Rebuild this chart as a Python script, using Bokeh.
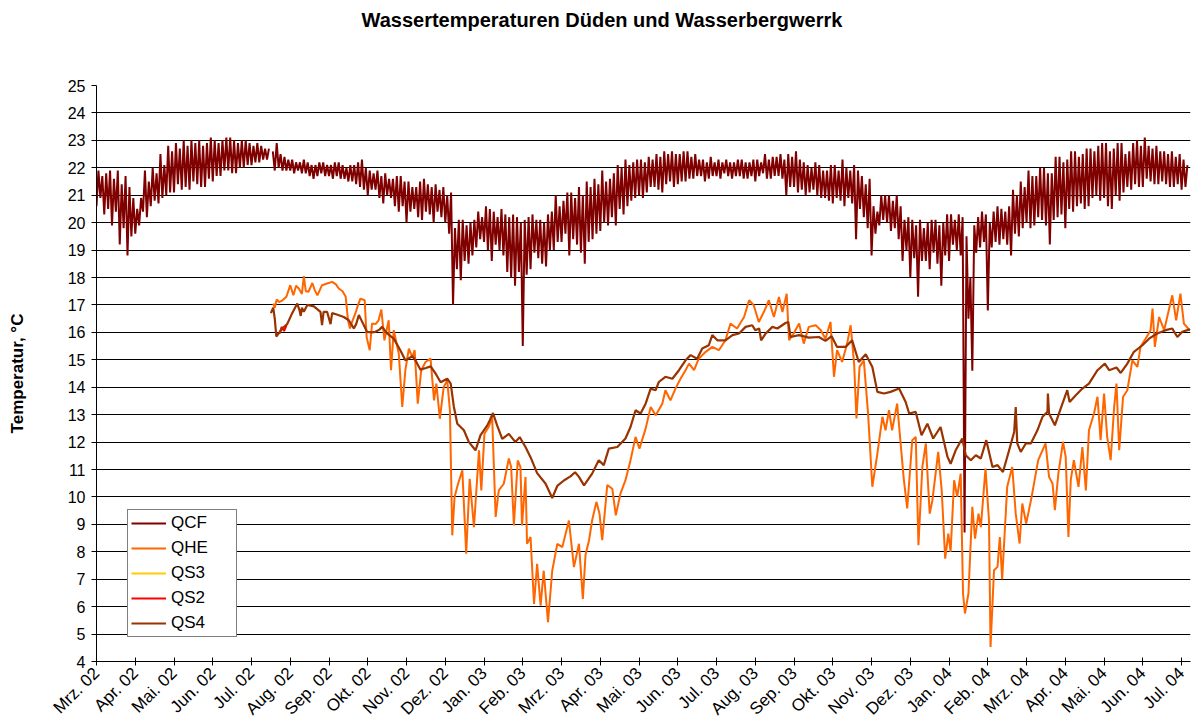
import math
from bokeh.plotting import figure
from bokeh.models import Range1d, FixedTicker, Legend, LegendItem, Title
from bokeh.embed import file_html
from bokeh.resources import INLINE

FONT = "Liberation Sans"

title_text = "Wassertemperaturen Düden und Wasserbergwerrk"
months = ["Mrz. 02", "Apr. 02", "Mai. 02", "Jun. 02", "Jul. 02", "Aug. 02", "Sep. 02",
          "Okt. 02", "Nov. 02", "Dez. 02", "Jan. 03", "Feb. 03", "Mrz. 03", "Apr. 03",
          "Mai. 03", "Jun. 03", "Jul. 03", "Aug. 03", "Sep. 03", "Okt. 03", "Nov. 03",
          "Dez. 03", "Jan. 04", "Feb. 04", "Mrz. 04", "Apr. 04", "Mai. 04", "Jun. 04",
          "Jul. 04"]

nan = float("nan")
# QCF: daily low (at 0.1*k month) and daily high (at 0.1*k + 0.05 month), one row per month
qcf_lo = [20.6, 20.9, 20.3, 20.5, 19.9, 20.4, 19.2, 19.8, 18.8, 19.5,
          19.6, 19.9, 20.4, 20.2, 20.6, 20.8, 20.7, 20.9, 21.0, 21.1,
          21.1, 21.4, 21.2, 21.3, 21.2, 21.5, 21.4, 21.3, 21.3, 21.6,
          21.5, 21.7, 21.7, 21.9, 21.9, 21.8, 21.8, 22.0, 22.0, 22.1,
          22.1, 22.2, 22.2, 22.3, 22.3, nan, 21.9, 22.0, 21.9, 21.9,
          21.9, 21.8, 21.9, 21.8, 21.8, 21.7, 21.6, 21.7, 21.8, 21.7,
          21.7, 21.6, 21.7, 21.6, 21.6, 21.5, 21.5, 21.4, 21.3, 21.2,
          21.0, 21.2, 21.2, 20.9, 20.7, 21.0, 20.9, 20.6, 20.4, 20.6,
          20.0, 20.4, 20.5, 20.2, 20.1, 20.4, 20.3, 20.0, 20.4, 20.2,
          20.0, 19.6, 17.0, 18.3, 17.9, 18.6, 18.5, 18.8, 19.1, 19.4,
          19.3, 19.0, 18.6, 19.2, 19.0, 18.8, 18.2, 18.0, 17.7, 18.2,
          15.5, 18.1, 18.3, 18.9, 18.7, 18.5, 18.4, 19.0, 19.0, 19.3,
          19.3, 19.6, 18.8, 19.4, 19.2, 18.9, 18.5, 19.3, 19.4, 19.6,
          19.7, 20.0, 19.9, 20.2, 19.9, 20.5, 20.3, 20.6, 20.8, 20.9,
          21.0, 20.9, 21.1, 21.3, 21.3, 21.2, 21.1, 21.4, 21.5, 21.3,
          21.4, 21.5, 21.5, 21.6, 21.6, 21.7, 21.7, 21.5, 21.6, 21.7,
          21.7, 21.6, 21.8, 21.7, 21.6, 21.7, 21.7, 21.6, 21.6, 21.7,
          21.5, 21.7, 21.8, 21.6, 21.6, 21.7, 21.7, 21.6, 21.0, 21.3,
          21.3, 21.1, 21.2, 21.0, 21.1, 21.2, 21.0, 20.9, 20.9, 20.8,
          20.7, 20.9, 20.8, 20.6, 20.9, 20.7, 19.4, 20.5, 20.2, 19.8,
          18.8, 19.6, 19.9, 20.1, 20.0, 19.7, 19.8, 19.4, 18.6, 19.0,
          18.0, 18.7, 17.3, 18.6, 18.6, 18.3, 18.9, 18.5, 17.7, 18.8,
          18.6, 19.2, 19.0, 18.8, 8.7, 16.5, 14.6, 18.9, 19.1, 19.3,
          16.8, 19.1, 19.3, 19.2, 19.4, 19.2, 18.8, 19.6, 19.5, 19.8,
          20.0, 19.8, 19.9, 20.2, 20.1, 19.9, 19.2, 20.1, 20.2, 20.3,
          19.8, 20.5, 20.4, 20.6, 20.7, 20.5, 20.6, 20.9, 21.0, 20.8,
          20.9, 20.6, 20.5, 21.0, 20.8, 21.1, 21.3, 21.2, 21.4, 21.3,
          21.3, 21.6, 21.5, 21.4, 21.4, 21.5, 21.4, 21.3, 21.3, 21.4,
          21.2, 21.3]
qcf_hi = [21.9, 21.7, 21.8, 21.9, 21.6, 21.9, 21.4, 21.7, 21.3, 20.9,
          20.5, 20.9, 21.9, 21.5, 22.0, 21.8, 22.5, 22.1, 22.8, 22.6,
          22.9, 22.7, 23.0, 22.8, 23.0, 22.9, 23.0, 22.8, 22.9, 23.1,
          23.0, 22.9, 23.0, 23.1, 23.1, 23.0, 22.9, 23.0, 23.0, 22.9,
          22.8, 22.9, 22.8, 22.7, 22.7, 22.6, 22.9, 22.5, 22.4, 22.3,
          22.3, 22.2, 22.2, 22.3, 22.2, 22.1, 22.1, 22.2, 22.2, 22.1,
          22.1, 22.2, 22.2, 22.1, 22.0, 22.1, 22.1, 22.2, 22.3, 22.0,
          21.9, 21.8, 21.9, 21.7, 21.8, 21.6, 21.6, 21.7, 21.7, 21.5,
          21.5, 21.3, 21.3, 21.5, 21.6, 21.4, 21.3, 21.4, 21.2, 21.3,
          21.0, 21.1, 19.8, 20.1, 20.1, 19.9, 20.0, 20.1, 20.4, 20.2,
          20.6, 20.5, 20.4, 20.2, 20.5, 20.3, 20.2, 20.3, 20.2, 20.0,
          20.1, 20.2, 20.3, 20.1, 20.1, 20.0, 20.3, 20.4, 21.0, 20.6,
          20.8, 21.1, 21.1, 20.9, 21.3, 21.0, 21.5, 21.3, 21.6, 21.4,
          21.9, 21.5, 21.6, 21.8, 22.1, 22.0, 22.3, 22.1, 22.2, 22.3,
          22.3, 22.2, 22.4, 22.3, 22.5, 22.4, 22.6, 22.5, 22.6, 22.5,
          22.5, 22.6, 22.6, 22.4, 22.5, 22.3, 22.3, 22.2, 22.4, 22.2,
          22.3, 22.2, 22.3, 22.2, 22.2, 22.3, 22.3, 22.2, 22.2, 22.3,
          22.3, 22.2, 22.5, 22.3, 22.4, 22.4, 22.5, 22.3, 22.5, 22.4,
          22.6, 22.3, 22.2, 22.1, 22.0, 22.2, 22.1, 21.9, 21.9, 22.1,
          22.1, 21.9, 22.3, 22.0, 21.9, 22.1, 21.9, 21.7, 21.4, 21.6,
          20.6, 20.4, 21.0, 21.0, 21.0, 20.8, 21.0, 20.6, 20.1, 20.2,
          20.1, 19.9, 20.1, 19.8, 20.0, 20.1, 20.1, 19.9, 20.0, 20.3,
          20.3, 20.1, 20.3, 20.2, 19.5, 18.0, 19.9, 20.2, 20.4, 20.3,
          20.0, 20.4, 20.6, 20.5, 20.4, 20.6, 21.2, 21.0, 21.5, 21.3,
          21.9, 21.7, 21.7, 22.0, 22.0, 21.8, 21.8, 22.4, 22.4, 22.2,
          22.3, 22.6, 22.6, 22.4, 22.5, 22.7, 22.7, 22.6, 22.8, 22.9,
          22.9, 22.6, 22.7, 22.9, 22.9, 22.5, 22.6, 22.9, 23.0, 22.8,
          23.1, 22.8, 22.7, 22.8, 22.6, 22.6, 22.5, 22.6, 22.4, 22.5,
          22.3, 22.1]

# QHE: month position (0 = Mrz. 02) and temperature
qhe_m = [4.56, 4.6, 4.65, 4.71, 4.8, 4.9, 5.0, 5.08, 5.15, 5.22, 5.3, 5.35, 5.4, 5.47, 5.57,
         5.63, 5.7, 5.82, 5.95, 6.08, 6.18, 6.25, 6.35, 6.43, 6.49, 6.54, 6.6, 6.68, 6.75, 6.81,
         6.92, 6.97, 7.05, 7.11, 7.2, 7.28, 7.35, 7.43, 7.54, 7.6, 7.67, 7.8, 7.89, 7.97, 8.06,
         8.15, 8.21, 8.29, 8.38, 8.49, 8.62, 8.71, 8.77, 8.86, 8.96, 9.05, 9.12, 9.18, 9.24, 9.33,
         9.44, 9.54, 9.63, 9.74, 9.87, 9.93, 10.01, 10.12, 10.21, 10.3, 10.38, 10.51, 10.64, 10.7,
         10.77, 10.87, 10.94, 10.98, 11.07, 11.11, 11.2, 11.29, 11.37, 11.46, 11.54, 11.65, 11.76,
         11.89, 12.02, 12.19, 12.32, 12.45, 12.55, 12.62, 12.71, 12.79, 12.9, 12.98, 13.05, 13.18,
         13.31, 13.4, 13.52, 13.65, 13.78, 13.91, 14.01, 14.17, 14.3, 14.43, 14.6, 14.68, 14.81,
         14.94, 15.07, 15.2, 15.29, 15.42, 15.54, 15.72, 15.89, 16.06, 16.23, 16.36, 16.53, 16.71,
         16.84, 16.96, 17.09, 17.22, 17.35, 17.48, 17.61, 17.7, 17.81, 17.87, 17.99, 18.13, 18.25,
         18.38, 18.56, 18.69, 18.81, 18.94, 19.03, 19.11, 19.24, 19.37, 19.46, 19.55, 19.61, 19.69,
         19.8, 19.91, 20.02, 20.15, 20.28, 20.36, 20.45, 20.53, 20.66, 20.75, 20.83, 20.92, 21.0,
         21.05, 21.14, 21.21, 21.31, 21.4, 21.5, 21.57, 21.72, 21.81, 21.9, 21.98, 22.04, 22.13,
         22.21, 22.3, 22.36, 22.41, 22.5, 22.6, 22.67, 22.76, 22.82, 22.94, 23.03, 23.07, 23.16,
         23.25, 23.31, 23.37, 23.5, 23.63, 23.72, 23.82, 23.89, 23.99, 24.13, 24.3, 24.49, 24.58,
         24.67, 24.73, 24.82, 24.94, 25.01, 25.08, 25.14, 25.22, 25.34, 25.44, 25.53, 25.61, 25.74,
         25.83, 25.91, 26.0, 26.08, 26.17, 26.26, 26.32, 26.39, 26.49, 26.6, 26.73, 26.86, 26.94,
         27.07, 27.2, 27.25, 27.31, 27.42, 27.55, 27.68, 27.76, 27.86, 27.97, 28.06, 28.17, 28.22]
qhe_t = [17.05, 16.9, 17.2, 17.1, 17.17, 17.3, 17.72, 17.35, 17.7, 17.6, 17.4, 18.05, 17.5, 17.48, 17.8,
         17.55, 17.35, 17.72, 17.78, 17.84, 17.75, 17.6, 17.5, 17.3, 16.44, 16.14, 16.4, 16.69, 17.0, 17.23,
         17.17, 15.83, 15.35, 16.32, 16.3, 16.44, 16.83, 15.71, 16.44, 14.62, 16.08, 15.23, 13.28, 14.62, 15.41,
         15.1, 15.35, 13.4, 14.62, 14.92, 15.04, 13.52, 14.13, 12.85, 14.01, 14.25, 13.16, 8.6, 10.0, 10.48,
         10.97, 7.93, 10.66, 8.9, 11.7, 10.24, 12.3, 12.55, 12.91, 9.27, 10.24, 10.48, 11.4, 11.09,
         8.96, 11.33, 11.09, 8.96, 10.73, 8.29, 8.54, 6.1, 7.56, 6.04, 7.31, 5.43, 7.31,
         8.29, 8.17, 9.14, 7.44, 8.29, 6.28, 7.9, 8.42, 9.15, 9.82, 9.39, 8.42, 10.43,
         10.3, 9.33, 10.12, 10.61, 11.34, 12.19, 11.76, 12.49, 13.28, 12.98, 13.4, 13.89, 13.52,
         13.95, 14.31, 14.62, 14.86, 14.62, 15.04, 15.29, 15.47, 15.35, 15.71, 16.32, 16.14, 16.56,
         17.17, 16.99, 16.38, 16.74, 17.17, 16.56, 17.29, 16.74, 17.41, 15.71, 15.96, 16.32, 15.59,
         16.2, 16.26, 16.08, 15.77, 16.38, 14.38, 15.35, 14.92, 15.59, 16.26, 14.86, 12.86, 14.74,
         14.98, 13.04, 10.37, 11.58, 12.92, 12.43, 13.16, 12.43, 13.4, 11.95, 10.67, 9.58, 11.1,
         12.07, 12.19, 8.24, 11.09, 11.95, 9.39, 9.88, 11.64, 10.24, 7.75, 8.66, 8.0, 10.61,
         10.0, 10.85, 6.48, 5.75, 6.48, 9.64, 8.48, 9.39, 8.9, 11.03, 9.15, 4.53, 7.33,
         7.45, 8.54, 7.0, 10.37, 11.09, 9.39, 8.3, 9.76, 9.03, 10.0, 11.34, 11.95, 10.73,
         10.49, 9.52, 10.85, 12.01, 11.46, 8.54, 10.61, 11.34, 10.37, 11.82, 10.24, 12.43, 13.04,
         13.65, 12.07, 13.77, 12.19, 11.34, 13.28, 14.13, 11.7, 13.65, 13.89, 14.98, 14.74, 15.47,
         15.77, 16.08, 16.87, 15.47, 16.56, 16.08, 16.87, 17.35, 16.44, 17.41, 16.32, 16.14, 16.08]

# QS3: no visible readings in the chart (legend entry only)
qs3_m = [nan]
qs3_t = [nan]

qs2_m = [4.72, 4.78, 4.84, 4.9]
qs2_t = [15.95, 16.2, 16.05, 16.25]

qs4_m = [4.5, 4.56, 4.6, 4.64, 4.72, 4.8, 4.92, 5.05, 5.18, 5.24, 5.27, 5.3, 5.35, 5.44, 5.61,
         5.78, 5.82, 5.86, 5.95, 6.04, 6.08, 6.2, 6.38, 6.51, 6.64, 6.7, 6.77, 6.85, 6.98, 7.1,
         7.2, 7.3, 7.37, 7.5, 7.67, 7.84, 7.97, 8.15, 8.23, 8.36, 8.5, 8.62, 8.75, 8.88, 9.05,
         9.14, 9.22, 9.31, 9.48, 9.61, 9.78, 9.91, 10.08, 10.15, 10.23, 10.34, 10.47, 10.64, 10.81,
         10.92, 11.07, 11.2, 11.37, 11.59, 11.76, 11.89, 12.06, 12.23, 12.35, 12.45, 12.58, 12.62,
         12.79, 12.96, 13.09, 13.22, 13.44, 13.65, 13.78, 13.91, 14.04, 14.17, 14.3, 14.43, 14.51,
         14.68, 14.86, 15.03, 15.2, 15.33, 15.5, 15.63, 15.8, 15.89, 16.02, 16.23, 16.41, 16.58,
         16.75, 16.92, 17.0, 17.1, 17.15, 17.27, 17.44, 17.57, 17.78, 17.85, 17.91, 18.13, 18.38,
         18.64, 18.81, 18.97, 19.11, 19.33, 19.5, 19.67, 19.85, 20.02, 20.15, 20.32, 20.49, 20.71,
         20.88, 20.97, 21.14, 21.29, 21.44, 21.59, 21.78, 21.96, 22.04, 22.17, 22.34, 22.43, 22.56,
         22.69, 22.82, 22.96, 23.12, 23.25, 23.39, 23.55, 23.68, 23.72, 23.76, 23.85, 23.98, 24.11,
         24.28, 24.41, 24.54, 24.55, 24.58, 24.73, 24.88, 25.05, 25.11, 25.27, 25.44, 25.61, 25.83,
         26.02, 26.13, 26.32, 26.43, 26.6, 26.77, 26.99, 27.16, 27.37, 27.59, 27.76, 27.89, 28.02,
         28.19, 28.22]
qs4_t = [16.7, 16.9, 16.5, 15.85, 16.0, 16.15, 16.3, 16.7, 17.05, 16.8, 16.6, 16.9, 16.75, 17.0, 16.95,
         16.75, 16.26, 16.75, 16.75, 16.3, 16.7, 16.65, 16.56, 16.44, 16.14, 16.3, 16.63, 16.4, 16.02, 16.0,
         16.02, 16.1, 16.2, 15.96, 15.77, 15.35, 14.98, 15.13, 14.98, 14.64, 14.7, 14.76, 14.5, 14.18, 14.31,
         14.13, 13.3, 12.67, 12.43, 12.0, 11.7, 12.25, 12.6, 12.8, 13.06, 12.6, 12.12, 12.3, 12.0,
         12.18, 11.82, 11.45, 10.87, 10.48, 9.96, 10.4, 10.6, 10.75, 10.9, 10.73, 10.42, 10.5,
         10.85, 11.34, 11.16, 11.76, 11.82, 12.13, 12.55, 13.16, 13.04, 13.4, 13.95, 13.89, 14.19,
         14.38, 14.31, 14.62, 14.98, 15.17, 15.04, 15.41, 15.53, 15.9, 15.71, 15.71, 15.9, 15.96,
         16.2, 16.26, 16.08, 16.14, 15.71, 15.96, 16.2, 16.14, 16.34, 16.38, 15.83, 15.9, 15.81,
         15.83, 15.69, 15.86, 15.47, 15.47, 15.71, 14.92, 15.2, 14.74, 13.83, 13.77, 13.83, 13.95,
         13.46, 13.04, 13.1, 12.25, 12.67, 12.13, 12.55, 11.46, 11.21, 11.7, 12.13, 11.52, 11.34,
         11.52, 11.4, 12.07, 11.09, 11.16, 10.91, 11.7, 12.37, 13.28, 11.95, 11.64, 11.95, 11.95,
         12.43, 12.92, 13.1, 13.77, 13.04, 12.61, 13.22, 13.89, 13.46, 13.71, 13.95, 14.13, 14.62,
         14.86, 14.62, 14.72, 14.52, 14.86, 15.29, 15.53, 15.77, 15.96, 16.08, 16.14, 15.83, 16.02,
         16.1, 16.08]

# build the QCF trace: low at 0.1*k, high at 0.1*k + 0.05
qcf_m, qcf_t = [], []
for k, (lo, hi) in enumerate(zip(qcf_lo, qcf_hi)):
    qcf_m += [0.1 * k, 0.1 * k + 0.05]
    qcf_t += [lo, hi]

p = figure(width=1193, height=728, x_range=Range1d(0, 28.23), y_range=Range1d(4, 25),
           output_backend="svg", toolbar_location=None,
           min_border_left=96, min_border_right=3, min_border_top=85, min_border_bottom=67)
p.outline_line_color = None
p.background_fill_color = "white"
p.border_fill_color = "white"
p.title.text = ""
p.title.standoff = 0

# spacer next to the plot area, then the chart title above it
p.add_layout(Title(text=" ", standoff=42, text_font_size="1px"), "above")
p.add_layout(Title(text=title_text, align="left", offset=265, vertical_align="top",
                   standoff=16, text_font=FONT, text_font_size="20px",
                   text_font_style="bold", text_color="black"), "above")

p.xgrid.grid_line_color = None
p.ygrid.grid_line_color = "black"
p.ygrid.grid_line_width = 1

p.yaxis.ticker = FixedTicker(ticks=list(range(4, 26)))
p.yaxis.axis_label = "Temperatur, °C"
p.yaxis.axis_label_text_font = FONT
p.yaxis.axis_label_text_font_style = "bold"
p.yaxis.axis_label_text_font_size = "17px"
p.yaxis.axis_label_text_color = "black"
p.yaxis.axis_label_standoff = 38
p.yaxis.major_label_text_font = FONT
p.yaxis.major_label_text_font_size = "16px"
p.yaxis.major_label_text_color = "black"
p.yaxis.major_tick_in = 0
p.yaxis.major_tick_out = 5
p.yaxis.minor_tick_line_color = None
p.yaxis.axis_line_color = "black"
p.yaxis.major_tick_line_color = "black"
p.yaxis.major_label_standoff = 6

p.xaxis.ticker = FixedTicker(ticks=list(range(len(months))))
p.xaxis.major_label_overrides = {i: m for i, m in enumerate(months)}
p.xaxis.major_label_orientation = math.pi / 4
p.xaxis.major_label_text_font = FONT
p.xaxis.major_label_text_font_size = "17px"
p.xaxis.major_label_text_color = "black"
p.xaxis.major_tick_in = 4
p.xaxis.major_tick_out = 4
p.xaxis.minor_tick_line_color = None
p.xaxis.axis_line_color = "black"
p.xaxis.major_tick_line_color = "black"

r_qcf = p.line(qcf_m, qcf_t, line_color="#800000", line_width=2)
r_qhe = p.line(qhe_m, qhe_t, line_color="#ff6600", line_width=2)
r_qs3 = p.line(qs3_m, qs3_t, line_color="#ffcc00", line_width=2)
r_qs2 = p.line(qs2_m, qs2_t, line_color="#ff0000", line_width=2)
r_qs4 = p.line(qs4_m, qs4_t, line_color="#993300", line_width=2.2)

legend = Legend(items=[LegendItem(label="QCF", renderers=[r_qcf]),
                       LegendItem(label="QHE", renderers=[r_qhe]),
                       LegendItem(label="QS3", renderers=[r_qs3]),
                       LegendItem(label="QS2", renderers=[r_qs2]),
                       LegendItem(label="QS4", renderers=[r_qs4])],
                location=(31, 24))
legend.label_text_font = FONT
legend.label_text_font_size = "17px"
legend.label_text_color = "black"
legend.border_line_color = "black"
legend.border_line_width = 1
legend.background_fill_color = "white"
legend.background_fill_alpha = 1
legend.glyph_width = 35
legend.glyph_height = 20
legend.label_height = 20
legend.label_width = 62
legend.spacing = 5
legend.padding = 3
legend.margin = 0
legend.label_standoff = 5
p.add_layout(legend, "center")

open("out.html", "w").write(file_html(p, INLINE))
